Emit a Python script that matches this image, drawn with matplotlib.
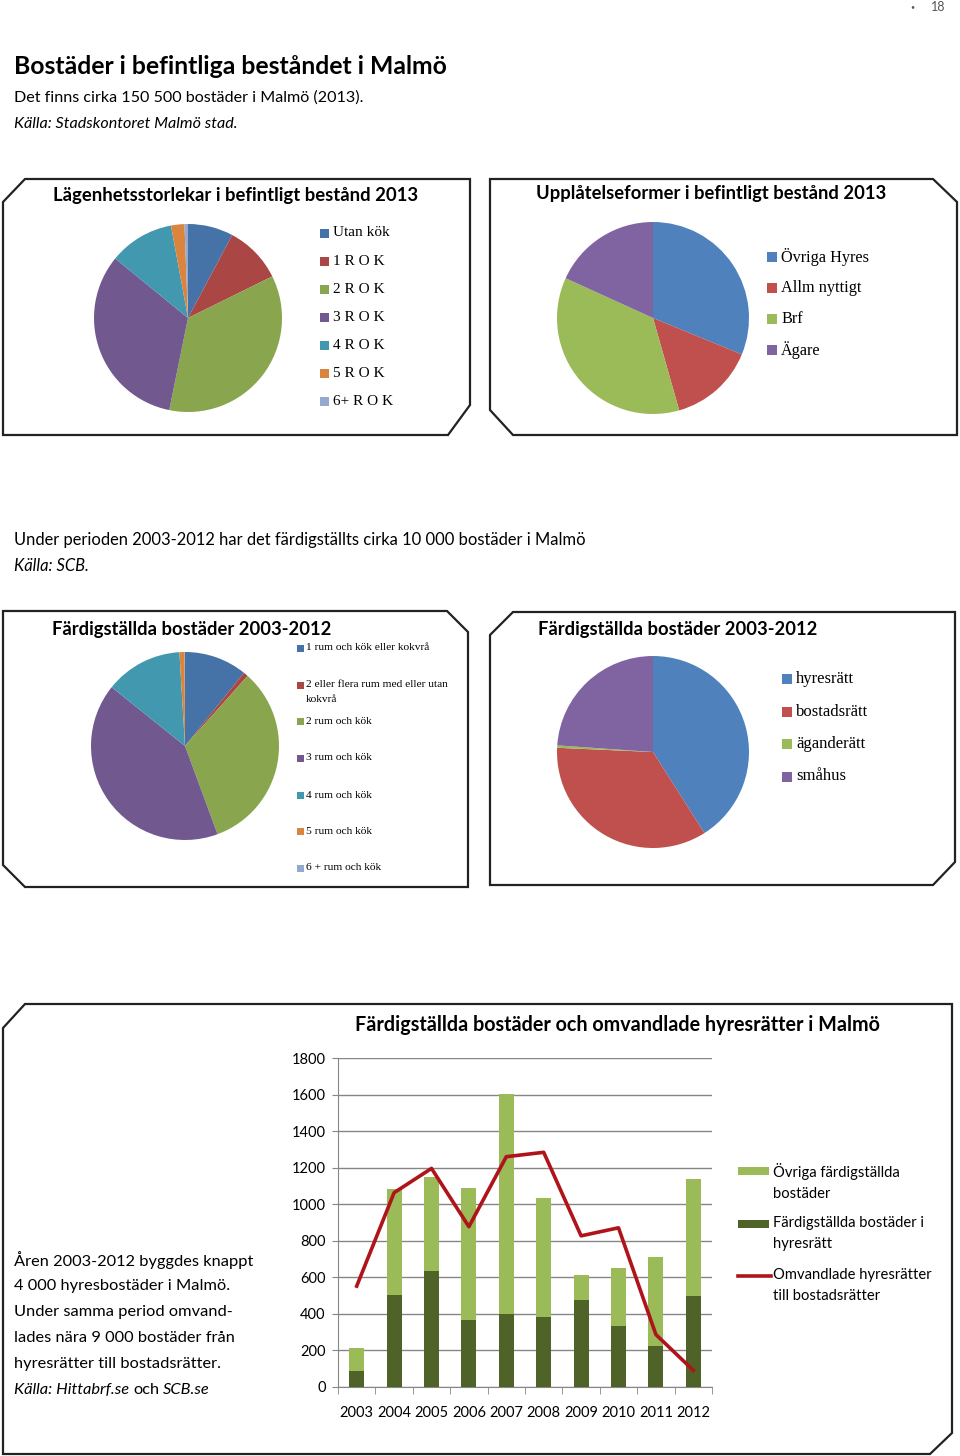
import matplotlib
matplotlib.use('Agg')
import matplotlib.pyplot as plt
from matplotlib.patches import Polygon, Rectangle

W, H = 960, 1456

# --- data ---
rok_labels = ['Utan kök', '1 R O K', '2 R O K', '3 R O K', '4 R O K', '5 R O K', '6+ R O K']
rok_values = [7.8, 9.9, 35.5, 32.7, 11.2, 2.3, 0.6]

upl_labels = ['Övriga Hyres', 'Allm nyttigt', 'Brf', 'Ägare']
upl_values = [31.2, 14.4, 36.2, 18.2]

rum_labels = ['1 rum och kök eller kokvrå', '2 eller flera rum med eller utan\nkokvrå',
              '2 rum och kök', '3 rum och kök', '4 rum och kök', '5 rum och kök',
              '6 + rum och kök']
rum_values = [10.8, 0.8, 32.8, 41.4, 13.3, 0.9, 0.05]

form_labels = ['hyresrätt', 'bostadsrätt', 'äganderätt', 'småhus']
form_values = [41.0, 34.7, 0.4, 23.9]

years = ['2003', '2004', '2005', '2006', '2007', '2008', '2009', '2010', '2011', '2012']
hyres_built = [88, 502, 636, 369, 402, 384, 475, 336, 223, 497]
other_built = [128, 579, 511, 718, 1200, 652, 139, 314, 488, 641]
converted = [552, 1063, 1196, 877, 1260, 1284, 827, 871, 287, 91]
bar_labels = ['Övriga färdigställda\nbostäder', 'Färdigställda bostäder i\nhyresrätt',
              'Omvandlade hyresrätter\ntill bostadsrätter']

dark6 = ['#4572A7', '#AA4643', '#89A54E', '#71588F', '#4198AF', '#DB843D', '#93A9CF']
std4 = ['#4F81BD', '#C0504D', '#9BBB59', '#8064A2']
c_other, c_hyres, c_conv = '#9BBB59', '#4F6228', '#B0141B'

SANS = 'Lato'
SERIF = 'Liberation Serif'

fig = plt.figure(figsize=(W / 100, H / 100), dpi=100)
fig.patch.set_facecolor('white')

# background axes in pixel coordinates
bg = fig.add_axes([0, 0, 1, 1])
bg.set_xlim(0, W)
bg.set_ylim(H, 0)
bg.axis('off')
renderer = fig.canvas.get_renderer()


def px_axes(x, y, w, h):
    return fig.add_axes([x / W, 1 - (y + h) / H, w / W, h / H])


def frame(pts):
    bg.add_patch(Polygon(pts, closed=True, fill=False, edgecolor='#222222', lw=1.6))


def right_edge(t):
    bb = t.get_window_extent(renderer)
    return bg.transData.inverted().transform((bb.x1, bb.y0))[0]


# beveled frames
frame([(3, 202), (25, 179), (470, 179), (470, 405), (448, 435), (3, 435)])
frame([(490, 179), (933, 179), (957, 202), (957, 435), (513, 435), (490, 410)])
frame([(3, 611), (447, 611), (468, 632), (468, 887), (25, 887), (3, 865)])
frame([(513, 612), (955, 612), (955, 862), (933, 885), (490, 885), (490, 635)])
frame([(25, 1004), (952, 1004), (952, 1433), (930, 1454), (3, 1454), (3, 1028)])

# page number
bg.text(912, 7, '•', fontsize=5, color='#555555', ha='center', va='center', family=SANS)
bg.text(938, 7, '18', fontsize=9, color='#555555', ha='center', va='center', family=SANS)

# headings and body text
bg.text(14, 67, 'Bostäder i befintliga beståndet i Malmö', fontsize=17.8, fontweight='bold',
        family=SANS, va='center')
bg.text(14, 98, 'Det finns cirka 150 500 bostäder i Malmö (2013).', fontsize=11.6,
        family=SANS, va='center')
bg.text(14, 124, 'Källa: Stadskontoret Malmö stad.', fontsize=11.6, style='italic',
        family=SANS, va='center')
bg.text(14, 540, 'Under perioden 2003-2012 har det färdigställts cirka 10 000 bostäder i Malmö',
        fontsize=11.9, family=SANS, va='center')
bg.text(14, 566, 'Källa: SCB.', fontsize=11.9, style='italic', family=SANS, va='center')

left_lines = ['Åren 2003-2012 byggdes knappt', '4 000 hyresbostäder i Malmö.',
              'Under samma period omvand-', 'lades nära 9 000 bostäder från',
              'hyresrätter till bostadsrätter.']
for i, line in enumerate(left_lines):
    bg.text(14, 1260 + i * 26, line, fontsize=11.8, family=SANS, va='center')
t = bg.text(14, 1390, 'Källa: Hittabrf.se', fontsize=11.8, family=SANS, style='italic',
            va='center')
t = bg.text(right_edge(t) + 4, 1390, 'och', fontsize=11.8, family=SANS, va='center')
bg.text(right_edge(t) + 4, 1390, 'SCB.se', fontsize=11.8, family=SANS, style='italic',
        va='center')

# pie titles
bg.text(236, 195, 'Lägenhetsstorlekar i befintligt bestånd 2013', fontsize=13.3,
        fontweight='bold', family=SANS, ha='center', va='center')
bg.text(711, 194, 'Upplåtelseformer i befintligt bestånd 2013', fontsize=13.2,
        fontweight='bold', family=SANS, ha='center', va='center')
bg.text(52, 629, 'Färdigställda bostäder 2003-2012', fontsize=13.2, fontweight='bold',
        family=SANS, va='center')
bg.text(538, 630, 'Färdigställda bostäder 2003-2012', fontsize=13.2, fontweight='bold',
        family=SANS, va='center')


def draw_pie(cx, cy, r, values, colors):
    ax = px_axes(cx - r, cy - r, 2 * r, 2 * r)
    ax.pie(values, colors=colors, startangle=90, counterclock=False,
           wedgeprops=dict(linewidth=0))
    ax.set_xlim(-1, 1)
    ax.set_ylim(-1, 1)
    ax.set_aspect('equal')
    ax.axis('off')


def draw_legend(x, y0, step, labels, colors, size, fs):
    for i, (lab, col) in enumerate(zip(labels, colors)):
        y = y0 + i * step
        bg.add_patch(Rectangle((x, y - size / 2), size, size, color=col, lw=0))
        bg.text(x + size + 4, y, lab, fontsize=fs, family=SERIF, va='center')


draw_pie(188, 318, 94, rok_values, dark6)
draw_legend(320, 233, 28.1, rok_labels, dark6, 9, 11)

draw_pie(653, 318, 96, upl_values, std4)
draw_legend(767, 257, 31, upl_labels, std4, 10, 11.7)

draw_pie(185, 746, 94, rum_values, dark6)
rum_y = [648, 685, 721, 758, 795, 831, 868]
for i, (lab, col) in enumerate(zip(rum_labels, dark6)):
    y = rum_y[i]
    bg.add_patch(Rectangle((297, y - 3.5), 7, 7, color=col, lw=0))
    if '\n' in lab:
        bg.text(306, y - 5, lab, fontsize=8.2, family=SERIF, va='top', linespacing=1.9)
    else:
        bg.text(306, y, lab, fontsize=8.2, family=SERIF, va='center')

draw_pie(653, 752, 96, form_values, std4)
draw_legend(782, 679, 32.5, form_labels, std4, 10, 12)

# bar chart
ax = px_axes(338, 1058, 374, 329)
x = range(len(years))
ax.bar(x, hyres_built, width=0.4, color=c_hyres, zorder=3)
ax.bar(x, other_built, width=0.4, bottom=hyres_built, color=c_other, zorder=3)
ax.plot(x, converted, color=c_conv, lw=2.6, zorder=4)
ax.set_xlim(-0.5, len(years) - 0.5)
ax.set_ylim(0, 1800)
ax.set_yticks(range(0, 1801, 200))
ax.set_xticks(list(x))
ax.set_xticklabels(years)
ax.set_xticks([i - 0.5 for i in range(len(years) + 1)], minor=True)
ax.tick_params(axis='x', which='major', length=0, pad=14, labelsize=10.5)
ax.tick_params(axis='x', which='minor', length=5, color='#868686')
ax.tick_params(axis='y', length=4, color='#868686', labelsize=10.5, pad=5)
for lab in ax.get_xticklabels() + ax.get_yticklabels():
    lab.set_family(SANS)
ax.grid(axis='y', color='#868686', lw=1, zorder=0)
for s in ['top', 'right']:
    ax.spines[s].set_visible(False)
ax.spines['left'].set_color('#868686')
ax.spines['bottom'].set_color('#868686')

bg.text(617, 1025, 'Färdigställda bostäder och omvandlade hyresrätter i Malmö', fontsize=14.2,
        fontweight='bold', family=SANS, ha='center', va='center')

# legend for the bar chart
leg_y = [1171, 1224, 1276]
for i, (lab, col) in enumerate(zip(bar_labels, [c_other, c_hyres, c_conv])):
    y = leg_y[i]
    if i < 2:
        bg.add_patch(Rectangle((738, y - 4), 31, 8, color=col, lw=0))
    else:
        bg.plot([738, 771], [y, y], color=col, lw=2.6)
    bg.text(773, y - 8, lab, fontsize=10.6, family=SANS, va='top', linespacing=1.6)

fig.savefig('out.png', dpi=100, facecolor='white')
